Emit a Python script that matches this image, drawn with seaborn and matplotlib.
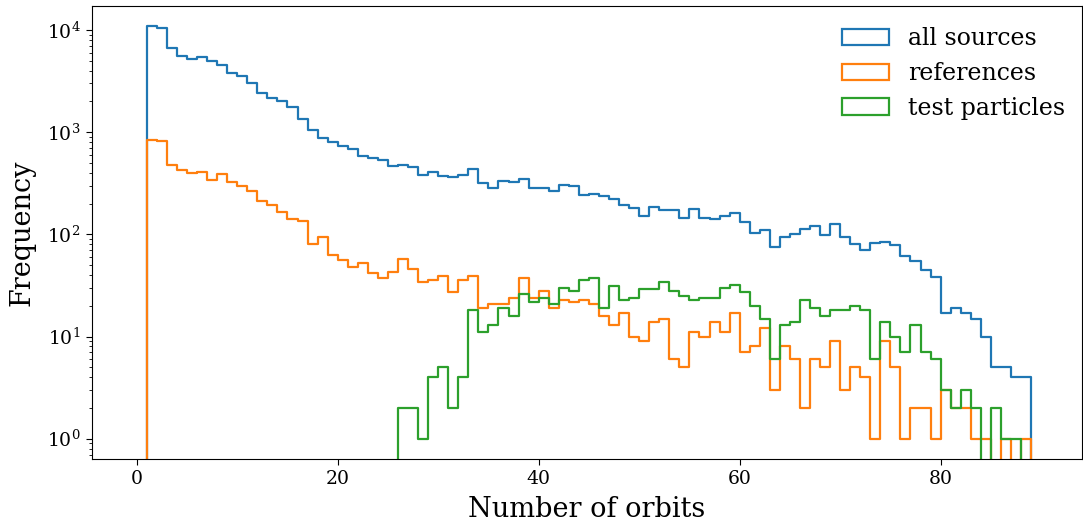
import numpy as np
import pandas as pd
import matplotlib
matplotlib.use("Agg")
import matplotlib.pyplot as plt
import seaborn as sns
from matplotlib.patches import Patch

# ---- data (counts per unit-width bin, bins 0..89) ----
bin_edges = list(range(0, 91))

all_sources = [
    0, 10900, 10400, 6700, 5560, 5150, 5470, 4960, 4540, 3760,
    3540, 3040, 2430, 2140, 2020, 1750, 1350, 1060, 870, 805,
    731, 684, 581, 554, 533, 463, 480, 458, 380, 410,
    369, 361, 380, 433, 315, 284, 332, 325, 345, 282,
    282, 267, 306, 295, 241, 250, 239, 220, 195, 182,
    151, 186, 172, 174, 145, 177, 143, 141, 151, 163,
    131, 104, 110, 76, 95, 100, 112, 121, 98, 125,
    95, 80, 70, 82, 85, 79, 61, 55, 45, 38,
    17, 19, 17, 15, 10, 5, 5, 4, 4, 0,
]

references = [
    0, 837, 824, 473, 426, 395, 410, 342, 386, 327,
    299, 267, 213, 195, 165, 141, 136, 80, 94, 63,
    56, 48, 53, 42, 37, 43, 58, 46, 34, 36,
    39, 27, 36, 39, 19, 21, 21, 24, 37, 24,
    28, 19, 23, 22, 23, 21, 16, 13, 17, 10,
    9, 14, 15, 6, 5, 11, 10, 14, 11, 17,
    7, 8, 12, 3, 8, 6, 2, 6, 5, 9,
    3, 5, 4, 1, 9, 5, 1, 2, 2, 1,
    3, 2, 2, 1, 1, 0, 1, 0, 1, 0,
]

test_particles = [
    0, 0, 0, 0, 0, 0, 0, 0, 0, 0,
    0, 0, 0, 0, 0, 0, 0, 0, 0, 0,
    0, 0, 0, 0, 0, 0, 2, 2, 1, 4,
    5, 2, 4, 18, 11, 13, 19, 16, 26, 22,
    24, 21, 30, 28, 36, 37, 19, 31, 23, 24,
    29, 29, 34, 28, 25, 23, 24, 24, 30, 32,
    27, 20, 15, 6, 13, 14, 23, 19, 16, 18,
    18, 20, 18, 6, 14, 10, 7, 13, 7, 6,
    3, 2, 3, 2, 0, 2, 1, 1, 0, 0,
]

series_labels = ["all sources", "references", "test particles"]
series_colors = ["#1f77b4", "#ff7f0e", "#2ca02c"]
x_ticks = [0, 20, 40, 60, 80]

# ---- style ----
plt.rcParams["font.family"] = ["DejaVu Serif"]
plt.rcParams["mathtext.fontset"] = "dejavuserif"

fig = plt.figure(figsize=(10.83, 5.24), dpi=100)
ax = fig.add_axes([0.0847, 0.124, 0.9143, 0.865])

centers = np.array(bin_edges[:-1]) + 0.5
for vals, lab, col in zip([all_sources, references, test_particles],
                          series_labels, series_colors):
    df = pd.DataFrame({"orbits": centers, "count": vals})
    sns.histplot(data=df, x="orbits", weights="count", bins=bin_edges,
                 element="step", fill=False, color=col, linewidth=1.6,
                 ax=ax)

ax.set_yscale("log")
ax.set_ylim(10 ** -0.199, 10 ** 4.237)
ax.set_xlim(-4.48, 94.06)
ax.set_xticks(x_ticks)
ax.tick_params(axis="both", labelsize=13.5)
ax.tick_params(axis="both", which="major", length=4.5)
ax.set_xlabel("Number of orbits", fontsize=19.5, labelpad=6)
ax.set_ylabel("Frequency", fontsize=19.5, labelpad=8)

handles = [Patch(facecolor="none", edgecolor=c, linewidth=1.6) for c in series_colors]
ax.legend(handles, series_labels, loc="upper right", frameon=False, fontsize=17,
          borderaxespad=0.3, bbox_to_anchor=(1.0, 0.989))

fig.savefig("out.png", dpi=100)
